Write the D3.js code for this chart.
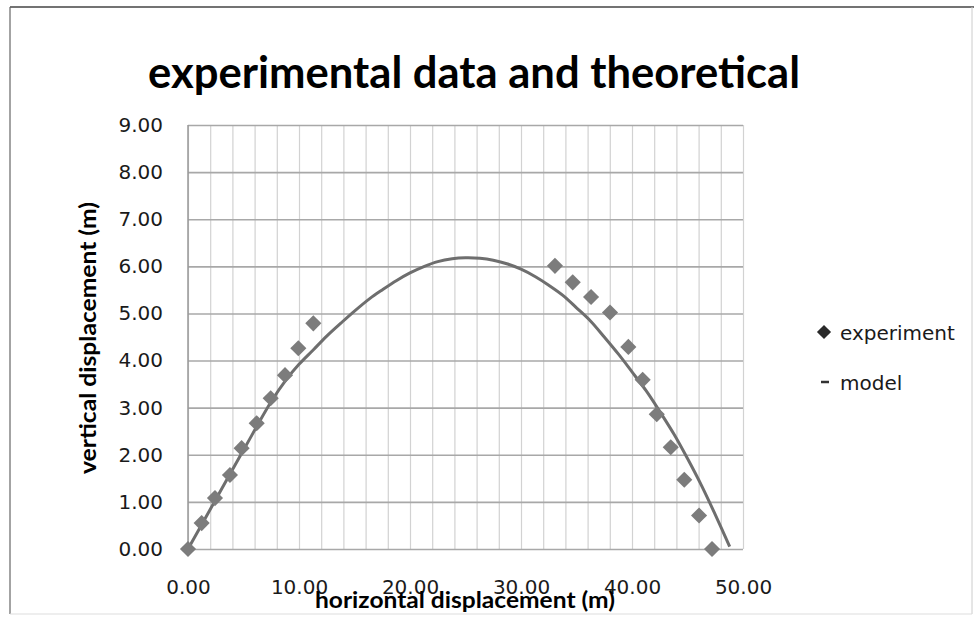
<!DOCTYPE html>
<html>
<head>
<meta charset="utf-8">
<script src="https://cdn.jsdelivr.net/npm/d3@7"></script>
<style>
  html, body { margin: 0; padding: 0; background: #fff; }
  svg { display: block; }
</style>
</head>
<body>
<svg id="chart" width="974" height="620"></svg>
<script>
// ---- data ----
const expX = [0, 1.23, 2.43, 3.78, 4.83, 6.19, 7.45, 8.74, 9.94, 11.29,
              33.06, 34.66, 36.31, 38.02, 39.67, 40.96, 42.23, 43.49, 44.71, 46.04, 47.21];
const expY = [0, 0.55, 1.08, 1.57, 2.14, 2.67, 3.20, 3.69, 4.26, 4.79,
              6.01, 5.66, 5.35, 5.02, 4.29, 3.59, 2.86, 2.16, 1.47, 0.71, 0];
const modelX = [0, 2.5, 5.0, 7.5, 8.8, 10.0, 11.3, 12.5, 13.8, 15.0, 16.4, 17.5, 18.8, 20.0, 21.3,
                22.5, 23.8, 25.0, 26.3, 27.5, 28.8, 30.0, 31.3, 32.5, 33.8, 35.0, 36.3, 37.5,
                38.8, 40.0, 41.3, 42.5, 43.8, 45.0, 46.3, 47.5, 48.8];
const modelY = [0, 1.05, 2.10, 3.13, 3.58, 3.92, 4.23, 4.52, 4.80, 5.05, 5.32, 5.50, 5.70, 5.86, 6.00,
                6.10, 6.16, 6.18, 6.17, 6.13, 6.05, 5.94, 5.78, 5.60, 5.38, 5.12, 4.83, 4.50,
                4.13, 3.76, 3.35, 2.92, 2.43, 1.92, 1.33, 0.73, 0.05];
const xTicks = [0, 10, 20, 30, 40, 50];
const yTicks = [0, 1, 2, 3, 4, 5, 6, 7, 8, 9];
const xGrid = d3.range(0, 51, 2);
const seriesNames = ["experiment", "model"];
const titleText = "experimental data and theoretical";
const xTitle = "horizontal displacement (m)";
const yTitle = "vertical displacement (m)";

// ---- drawing ----
const svg = d3.select("#chart");
const tickFont = "'DejaVu Sans', Verdana, sans-serif";
const boldFont = "Lato, 'Open Sans', sans-serif";

const x = d3.scaleLinear().domain([0, 50]).range([188, 743]);
const y = d3.scaleLinear().domain([0, 9]).range([549, 125]);

// outer frame
svg.append("line").attr("x1", 10).attr("x2", 974).attr("y1", 7).attr("y2", 7)
  .attr("stroke", "#444").attr("stroke-width", 1.5);
svg.append("line").attr("x1", 10).attr("x2", 10).attr("y1", 7).attr("y2", 614)
  .attr("stroke", "#666").attr("stroke-width", 1.2);
svg.append("line").attr("x1", 972).attr("x2", 972).attr("y1", 7).attr("y2", 614)
  .attr("stroke", "#ccc").attr("stroke-width", 1);
svg.append("line").attr("x1", 10).attr("x2", 972).attr("y1", 614).attr("y2", 614)
  .attr("stroke", "#ddd").attr("stroke-width", 1);

// vertical gridlines
svg.append("g")
  .attr("transform", `translate(0,${y(0)})`)
  .call(d3.axisBottom(x).tickValues(xGrid).tickSize(-(y(0) - y(9))).tickFormat(""))
  .call(g => g.select(".domain").remove())
  .call(g => g.selectAll("line").attr("stroke", "#d2d2d2").attr("stroke-width", 1.2));

// horizontal gridlines
svg.append("g")
  .attr("transform", `translate(${x(0)},0)`)
  .call(d3.axisLeft(y).tickValues(yTicks).tickSize(-(x(50) - x(0))).tickFormat(""))
  .call(g => g.select(".domain").remove())
  .call(g => g.selectAll("line").attr("stroke", "#a8a8a8").attr("stroke-width", 1.6));

// y axis line
svg.append("line").attr("x1", x(0)).attr("x2", x(0)).attr("y1", y(9)).attr("y2", y(0))
  .attr("stroke", "#999").attr("stroke-width", 1.5);

// y tick labels
svg.append("g")
  .attr("transform", `translate(${x(0)},0)`)
  .call(d3.axisLeft(y).tickValues(yTicks).tickSize(0).tickPadding(25).tickFormat(d => d.toFixed(2)))
  .call(g => g.select(".domain").remove())
  .call(g => g.selectAll("text").attr("font-family", tickFont).attr("font-size", 20).attr("fill", "#1a1a1a"));

// x tick labels
svg.append("g")
  .attr("transform", `translate(0,${y(0)})`)
  .call(d3.axisBottom(x).tickValues(xTicks).tickSize(0).tickPadding(31).tickFormat(d => d.toFixed(2)))
  .call(g => g.select(".domain").remove())
  .call(g => g.selectAll("text").attr("font-family", tickFont).attr("font-size", 20).attr("fill", "#1a1a1a"));

// model curve
const modelData = modelX.map((v, i) => [v, modelY[i]]);
svg.append("path")
  .datum(modelData)
  .attr("d", d3.line().x(d => x(d[0])).y(d => y(d[1])).curve(d3.curveCatmullRom))
  .attr("fill", "none")
  .attr("stroke", "#6e6e6e")
  .attr("stroke-width", 3);

// experiment diamonds
const expData = expX.map((v, i) => [v, expY[i]]);
const diamond = d3.symbol().type(d3.symbolSquare).size(130);
svg.append("g").selectAll("path")
  .data(expData)
  .join("path")
  .attr("d", diamond)
  .attr("transform", d => `translate(${x(d[0])},${y(d[1])}) rotate(45)`)
  .attr("fill", "#7c7c7c");

// title
svg.append("text")
  .attr("x", 474).attr("y", 88)
  .attr("text-anchor", "middle")
  .attr("font-family", boldFont).attr("font-weight", "bold").attr("font-size", 44)
  .attr("textLength", 652).attr("lengthAdjust", "spacingAndGlyphs")
  .attr("fill", "#000")
  .text(titleText);

// axis titles
svg.append("text")
  .attr("transform", "translate(96,338) rotate(-90)")
  .attr("text-anchor", "middle")
  .attr("font-family", boldFont).attr("font-weight", "bold").attr("font-size", 22)
  .attr("textLength", 272).attr("lengthAdjust", "spacingAndGlyphs")
  .attr("fill", "#000")
  .text(yTitle);

svg.append("text")
  .attr("x", 465).attr("y", 608)
  .attr("text-anchor", "middle")
  .attr("font-family", boldFont).attr("font-weight", "bold").attr("font-size", 23)
  .attr("textLength", 300).attr("lengthAdjust", "spacingAndGlyphs")
  .attr("fill", "#000")
  .text(xTitle);

// legend
const legend = svg.append("g");
legend.append("path")
  .attr("d", d3.symbol().type(d3.symbolSquare).size(100))
  .attr("transform", "translate(824,332) rotate(45)")
  .attr("fill", "#2a2a2a");
legend.append("text")
  .attr("x", 840).attr("y", 340)
  .attr("font-family", tickFont).attr("font-size", 20).attr("fill", "#1a1a1a")
  .text(seriesNames[0]);
legend.append("line")
  .attr("x1", 821).attr("x2", 829).attr("y1", 382).attr("y2", 382)
  .attr("stroke", "#333").attr("stroke-width", 2.5);
legend.append("text")
  .attr("x", 840).attr("y", 390)
  .attr("font-family", tickFont).attr("font-size", 20).attr("fill", "#1a1a1a")
  .text(seriesNames[1]);
</script>
</body>
</html>
